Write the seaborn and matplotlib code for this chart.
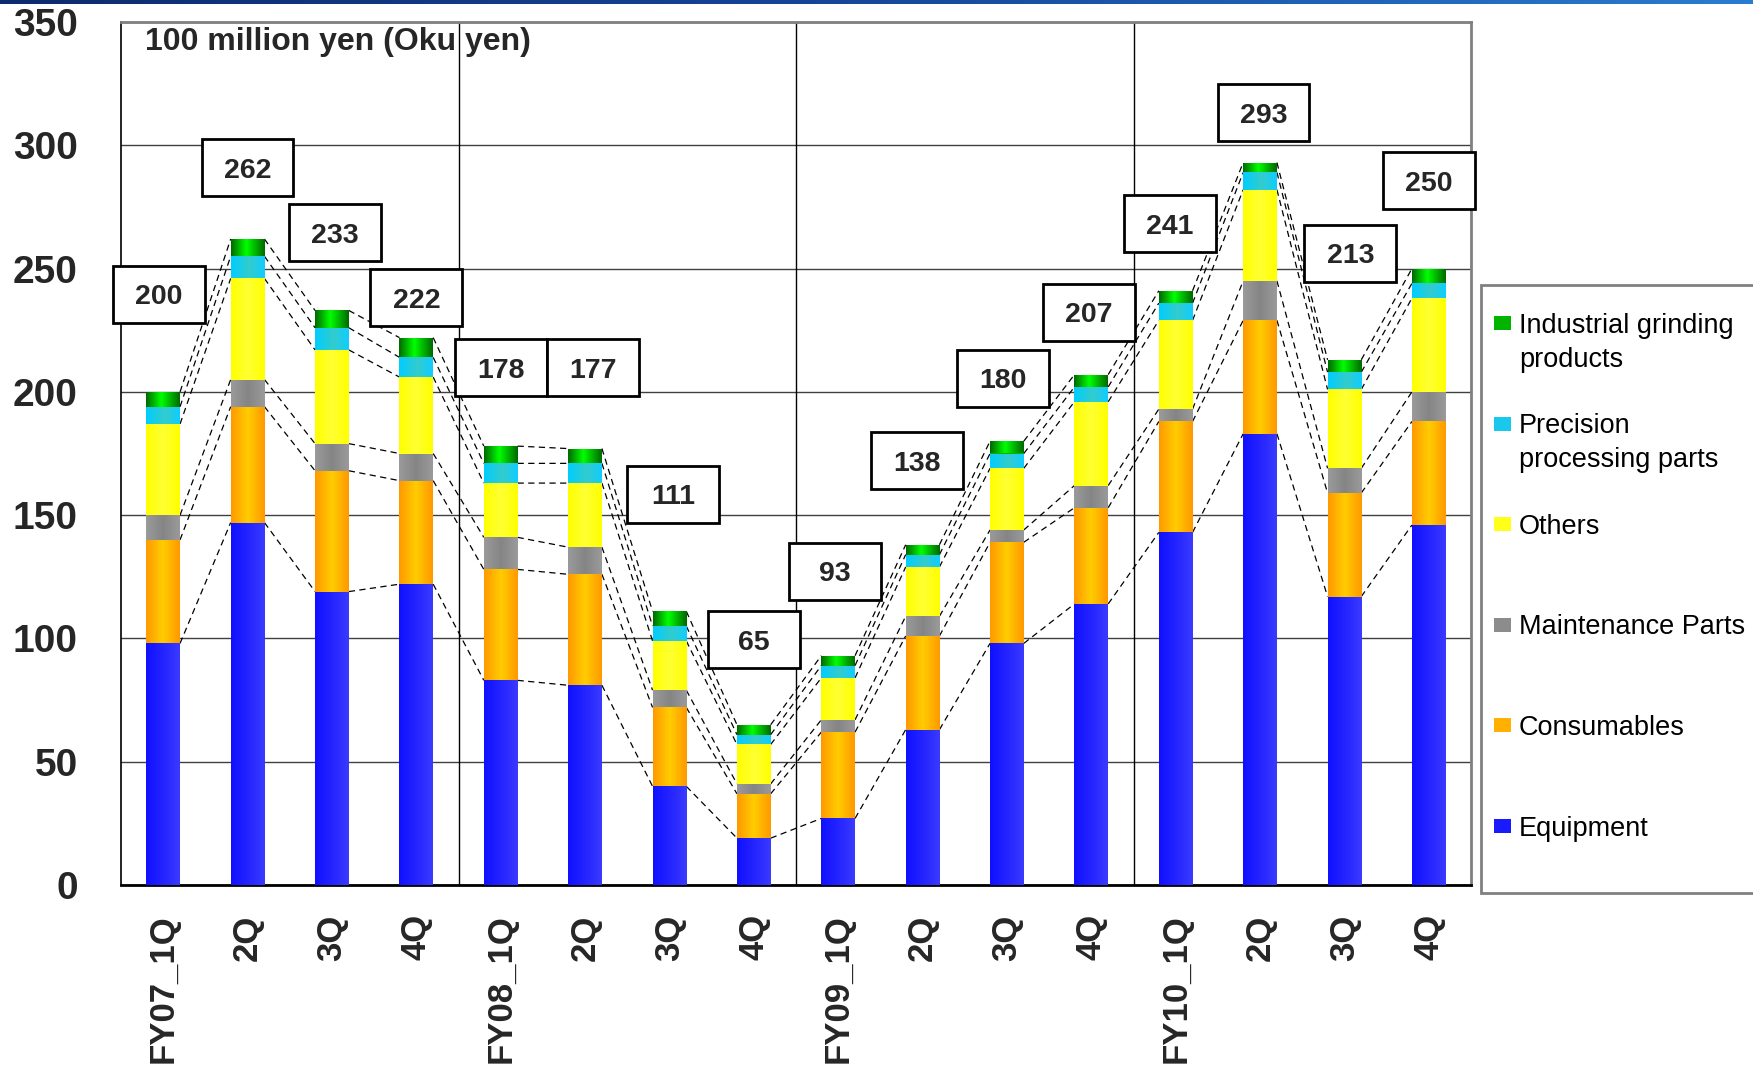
import numpy as np
import matplotlib
matplotlib.use("Agg")
import matplotlib.pyplot as plt
from matplotlib.colors import LinearSegmentedColormap
from matplotlib.patches import Rectangle
import seaborn as sns

# ---- data (100 million yen) -------------------------------------------------
periods = ["FY07_1Q", "FY07_2Q", "FY07_3Q", "FY07_4Q",
           "FY08_1Q", "FY08_2Q", "FY08_3Q", "FY08_4Q",
           "FY09_1Q", "FY09_2Q", "FY09_3Q", "FY09_4Q",
           "FY10_1Q", "FY10_2Q", "FY10_3Q", "FY10_4Q"]
tick_labels = ["FY07_1Q", "2Q", "3Q", "4Q",
               "FY08_1Q", "2Q", "3Q", "4Q",
               "FY09_1Q", "2Q", "3Q", "4Q",
               "FY10_1Q", "2Q", "3Q", "4Q"]

equipment   = [98, 147, 119, 122, 83, 81, 40, 19, 27, 63, 98, 114, 143, 183, 117, 146]
consumables = [42, 47, 49, 42, 45, 45, 32, 18, 35, 38, 41, 39, 45, 46, 42, 42]
maintenance = [10, 11, 11, 11, 13, 11, 7, 4, 5, 8, 5, 9, 5, 16, 10, 12]
others      = [37, 41, 38, 31, 22, 26, 20, 16, 17, 20, 25, 34, 36, 37, 32, 38]
precision   = [7, 9, 9, 8, 8, 8, 6, 4, 5, 5, 6, 6, 7, 7, 7, 6]
industrial  = [6, 7, 7, 8, 7, 6, 6, 4, 4, 4, 5, 5, 5, 4, 5, 6]

segment_names = ["Equipment", "Consumables", "Maintenance Parts", "Others",
                 "Precision processing parts", "Industrial grinding products"]
legend_labels = {"Industrial grinding products": "Industrial grinding\nproducts",
                 "Precision processing parts": "Precision\nprocessing parts"}
segment_values = [equipment, consumables, maintenance, others, precision, industrial]

# ---- styling ---------------------------------------------------------------
gradients = {
    "Equipment": [(0.0, "#1010ff"), (0.6, "#2828ff"), (1.0, "#3a3aff")],
    "Consumables": [(0.0, "#ff9900"), (0.5, "#ffcc00"), (1.0, "#ff9900")],
    "Maintenance Parts": [(0.0, "#9a9a9a"), (0.5, "#858585"), (1.0, "#9a9a9a")],
    "Others": [(0.0, "#ffff00"), (0.5, "#ffff33"), (1.0, "#ffff00")],
    "Precision processing parts": [(0.0, "#00ccff"), (0.55, "#33cccc"), (1.0, "#11ccff")],
    "Industrial grinding products": [(0.0, "#006a00"), (0.45, "#00ff00"), (1.0, "#006a00")],
}
legend_colors = {
    "Equipment": "#1a1aff", "Consumables": "#ffb000", "Maintenance Parts": "#8c8c8c",
    "Others": "#ffff1a", "Precision processing parts": "#1ac8ee",
    "Industrial grinding products": "#00b400",
}
# placement of the total boxes relative to each bar top (category units, data units)
label_dx = [-0.05, 0, 0.04, 0, 0, 0.09, 0.04, 0, -0.04, -0.07, -0.05, -0.03, -0.07, 0.04, 0.07, 0]
label_dy = [39.6, 28.8, 31.5, 16.2, 31.7, 32.7, 47.5, 34.6, 34.3, 34.1, 25.6, 25.3, 27.1, 20.4, 43.3, 35.8]

sns.set_style("white")
plt.rcParams["font.family"] = ["Liberation Sans", "DejaVu Sans"]

W, H = 1753, 1068
fig = plt.figure(figsize=(W / 100, H / 100), dpi=100)


def fx(px):
    return px / W


def fy(py):
    return 1 - py / H


ax = fig.add_axes([fx(121), fy(885), fx(1471) - fx(121), fy(22) - fy(885)])

# ---- stacked bars ------------------------------------------------------------
n = len(periods)
bottom = np.zeros(n)
seg_patches = []
for name, vals in zip(segment_names, segment_values):
    before = len(ax.patches)
    sns.barplot(x=periods, y=vals, order=periods, bottom=bottom.copy(),
                color=legend_colors[name], width=0.4, saturation=1,
                errorbar=None, linewidth=0, edgecolor="none", ax=ax, zorder=3)
    seg_patches.append(ax.patches[before:])
    bottom += np.asarray(vals, dtype=float)

# horizontal shading inside each bar segment
for name, patches in zip(segment_names, seg_patches):
    cmap = LinearSegmentedColormap.from_list(name, gradients[name])
    grad = cmap(np.linspace(0, 1, 64))[None, :, :3]
    for p in patches:
        x0, w, y0, h = p.get_x(), p.get_width(), p.get_y(), p.get_height()
        im = ax.imshow(grad, extent=[x0, x0 + w, y0, y0 + h], aspect="auto",
                       interpolation="bilinear", zorder=3.1)
        im.set_clip_path(p)

# dashed connectors between the segment tops of neighbouring bars
for patches in seg_patches:
    xs, ys = [], []
    for a, b in zip(patches[:-1], patches[1:]):
        xs += [a.get_x() + a.get_width(), b.get_x(), np.nan]
        ys += [a.get_y() + a.get_height(), b.get_y() + b.get_height(), np.nan]
    ax.plot(xs, ys, color="black", lw=0.9, ls=(0, (5, 3.5)), zorder=2.5)

# boxed totals
box_w, box_h = 1.087, 23.1
for p, dx, dy in zip(seg_patches[-1], label_dx, label_dy):
    total = p.get_y() + p.get_height()
    cx = p.get_x() + p.get_width() / 2 + dx
    cy = total + dy
    ax.add_patch(Rectangle((cx - box_w / 2, cy - box_h / 2), box_w, box_h,
                           facecolor="white", edgecolor="black", lw=2,
                           zorder=5, clip_on=False))
    ax.annotate(f"{total:.0f}", (cx, cy), xytext=(0, -7.4), textcoords="offset points",
                ha="center", va="baseline", fontsize=20.5, fontweight="bold", zorder=6)

# ---- axes --------------------------------------------------------------------
ax.set_xlim(-0.5, n - 0.5)
ax.set_ylim(0, 350)
ax.set_yticks(np.arange(0, 351, 50))
ax.set_yticklabels([str(v) for v in range(0, 351, 50)], fontsize=28, fontweight="bold")
ax.set_xticks(range(n))
ax.set_xticklabels(tick_labels, rotation=90, fontsize=25, fontweight="bold",
                   ha="center", va="top")
ax.set_xlabel("")
ax.set_ylabel("")
ax.tick_params(axis="y", direction="in", length=10, width=1.5, color="#404040", pad=31)
ax.tick_params(axis="x", length=0, pad=21)

ax.yaxis.grid(True, color="#404040", lw=1)
ax.xaxis.grid(False)
ax.set_axisbelow(True)
for g in range(4, n, 4):
    ax.axvline(g - 0.5, color="black", lw=1, zorder=0.8)

ax.spines["left"].set_color("black")
ax.spines["left"].set_linewidth(1.2)
ax.spines["bottom"].set_color("black")
ax.spines["bottom"].set_linewidth(2)
ax.spines["top"].set_color("#808080")
ax.spines["top"].set_linewidth(2)
ax.spines["right"].set_color("#808080")
ax.spines["right"].set_linewidth(2)

ax.text(0.0178, 0.967, "100 million yen (Oku yen)", transform=ax.transAxes,
        ha="left", va="baseline", fontsize=23, fontweight="bold", zorder=6)

# ---- legend panel ------------------------------------------------------------
fig.patches.append(Rectangle((fx(1481), fy(893)), fx(1762) - fx(1481), fy(285) - fy(893),
                             transform=fig.transFigure, facecolor="white",
                             edgecolor="#808080", lw=2, zorder=1))
row_y0, row_step, line_step = 323, 100.6, 34
for k, name in enumerate(reversed(segment_names)):
    cy = row_y0 + k * row_step
    fig.patches.append(Rectangle((fx(1494), fy(cy + 7)), fx(1511) - fx(1494), fy(cy - 7) - fy(cy + 7),
                                 transform=fig.transFigure, facecolor=legend_colors[name],
                                 edgecolor="none", zorder=2))
    for j, line in enumerate(legend_labels.get(name, name).split("\n")):
        fig.text(fx(1519), fy(cy + j * line_step + 9.6), line, ha="left", va="baseline",
                 fontsize=19.5, color="black", zorder=3)

# ---- header band -------------------------------------------------------------
band = fig.add_axes([0, fy(4), 1, fy(0) - fy(4)])
band_cmap = LinearSegmentedColormap.from_list("band", ["#0d2a6e", "#16479a", "#2a7cd0"])
band.imshow(band_cmap(np.linspace(0, 1, 256))[None, :, :3], aspect="auto",
            extent=[0, 1, 0, 1], interpolation="bilinear")
band.set_axis_off()

fig.savefig("out.png", dpi=100)
